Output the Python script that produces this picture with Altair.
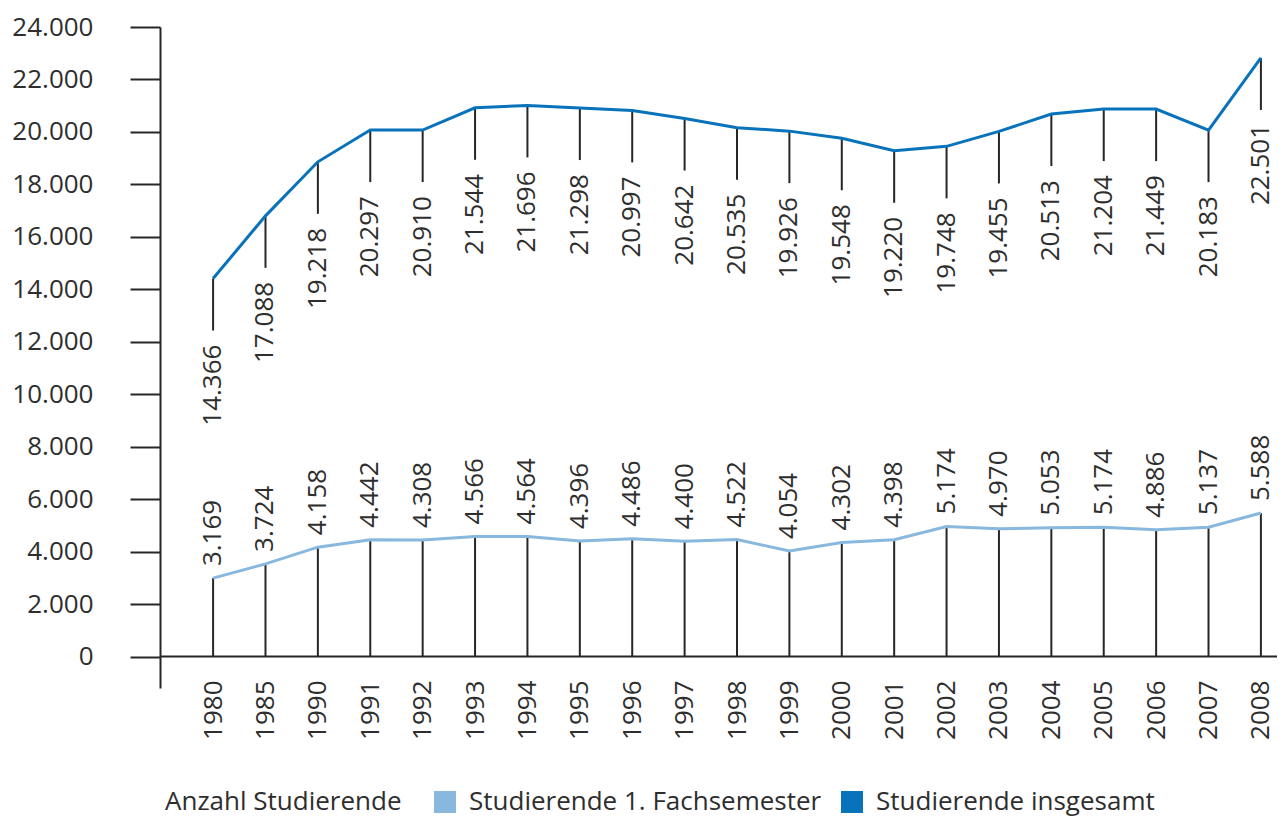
import altair as alt
import pandas as pd

years = ["1980", "1985", "1990", "1991", "1992", "1993", "1994", "1995", "1996", "1997",
         "1998", "1999", "2000", "2001", "2002", "2003", "2004", "2005", "2006", "2007", "2008"]

# line positions
total_values = [14410, 16800, 18860, 20070, 20070, 20920, 21010, 20910, 20820, 20510,
                20160, 20030, 19760, 19280, 19450, 20020, 20680, 20870, 20870, 20070, 22820]
first_values = [2990, 3530, 4170, 4450, 4440, 4580, 4580, 4400, 4490, 4390,
                4460, 4020, 4350, 4450, 4960, 4870, 4910, 4930, 4830, 4930, 5470]

# printed labels
total_labels = ["14.366", "17.088", "19.218", "20.297", "20.910", "21.544", "21.696", "21.298",
                "20.997", "20.642", "20.535", "19.926", "19.548", "19.220", "19.748", "19.455",
                "20.513", "21.204", "21.449", "20.183", "22.501"]
first_labels = ["3.169", "3.724", "4.158", "4.442", "4.308", "4.566", "4.564", "4.396",
                "4.486", "4.400", "4.522", "4.054", "4.302", "4.398", "5.174", "4.970",
                "5.053", "5.174", "4.886", "5.137", "5.588"]

series = ["Studierende 1. Fachsemester", "Studierende insgesamt"]
colors = ["#88b8de", "#0872ba"]
y_ticks = list(range(0, 24001, 2000))

FONT = "Open Sans"
FS = 26
TXT = "#2e2e2e"
RULE = "#262626"

df_total = pd.DataFrame({"year": years, "value": total_values, "label": total_labels,
                         "series": series[1]})
df_first = pd.DataFrame({"year": years, "value": first_values, "label": first_labels,
                         "series": series[0]})
df_all = pd.concat([df_first, df_total], ignore_index=True)

W, H = 1074, 661

x_enc = alt.X("year:O", sort=years,
              scale=alt.Scale(type="point", padding=0.25),
              axis=alt.Axis(title=None, labelAngle=270, labelAlign="right", labelBaseline="middle",
                            labelPadding=24, offset=-32, domain=False, ticks=False,
                            labelFont=FONT, labelFontSize=FS, labelColor=TXT, labelOverlap=False))
y_enc = alt.Y("value:Q",
              scale=alt.Scale(domain=[-1200, 24000], nice=False, zero=False),
              axis=alt.Axis(title=None, values=y_ticks, grid=False, tickSize=30, offset=40,
                            labelPadding=37,
                            labelExpr="replace(format(datum.value, ','), ',', '.')",
                            labelFont=FONT, labelFontSize=FS, labelColor=TXT,
                            domainColor=RULE, tickColor=RULE, domainWidth=2, tickWidth=2))

lower_rules = alt.Chart(df_first).mark_rule(color=RULE, strokeWidth=2).encode(
    x=x_enc, y=y_enc, y2=alt.datum(0))

upper_ticks = alt.Chart(df_total).mark_rule(color=RULE, strokeWidth=2, y2Offset=52).encode(
    x=x_enc, y=y_enc, y2=alt.Y2("value:Q"))

# stroke scale domain comes from the data (alphabetical = same order as `series`)
lines = alt.Chart(df_all).mark_line(strokeWidth=3).encode(
    x=x_enc, y=y_enc,
    stroke=alt.Stroke("series:N", scale=alt.Scale(range=colors), legend=None))

lower_text = alt.Chart(df_first).mark_text(angle=270, align="left", baseline="middle", dx=12,
                                           font=FONT, fontSize=FS, color=TXT).encode(
    x=x_enc, y=y_enc, text="label:N")

upper_text = alt.Chart(df_total).mark_text(angle=270, align="right", baseline="middle", dx=-66,
                                           font=FONT, fontSize=FS, color=TXT).encode(
    x=x_enc, y=y_enc, text="label:N")

baseline = alt.Chart(pd.DataFrame({"z": [0]})).mark_rule(color=RULE, strokeWidth=2).encode(
    y=alt.datum(0), x=alt.value(-40), x2=alt.value(W + 3))

legend_layer = alt.Chart(df_all).mark_square(filled=True, opacity=0).encode(
    x=x_enc, y=y_enc,
    fill=alt.Fill("series:N", scale=alt.Scale(domain=series, range=colors),
                  legend=alt.Legend(title="Anzahl Studierende", orient="none", legendX=-35,
                                    legendY=762, direction="horizontal", titleOrient="left",
                                    titleFont=FONT, titleFontSize=FS, titleFontWeight="normal",
                                    titleColor=TXT, titlePadding=30, titleLimit=600,
                                    labelFont=FONT, labelFontSize=FS, labelColor=TXT,
                                    labelLimit=600, labelOffset=11, columnPadding=17,
                                    symbolType="square", symbolSize=484, symbolStrokeWidth=0,
                                    symbolOpacity=1)))

chart = alt.layer(lower_rules, upper_ticks, baseline, lines, lower_text, upper_text,
                  legend_layer).properties(
    width=W, height=H,
    autosize=alt.AutoSizeParams(type="none"),
    padding={"left": 192, "top": 19, "right": 3, "bottom": 129},
).configure_view(stroke=None)

chart.save("out.html", embed_options={"renderer": "svg", "actions": False})
